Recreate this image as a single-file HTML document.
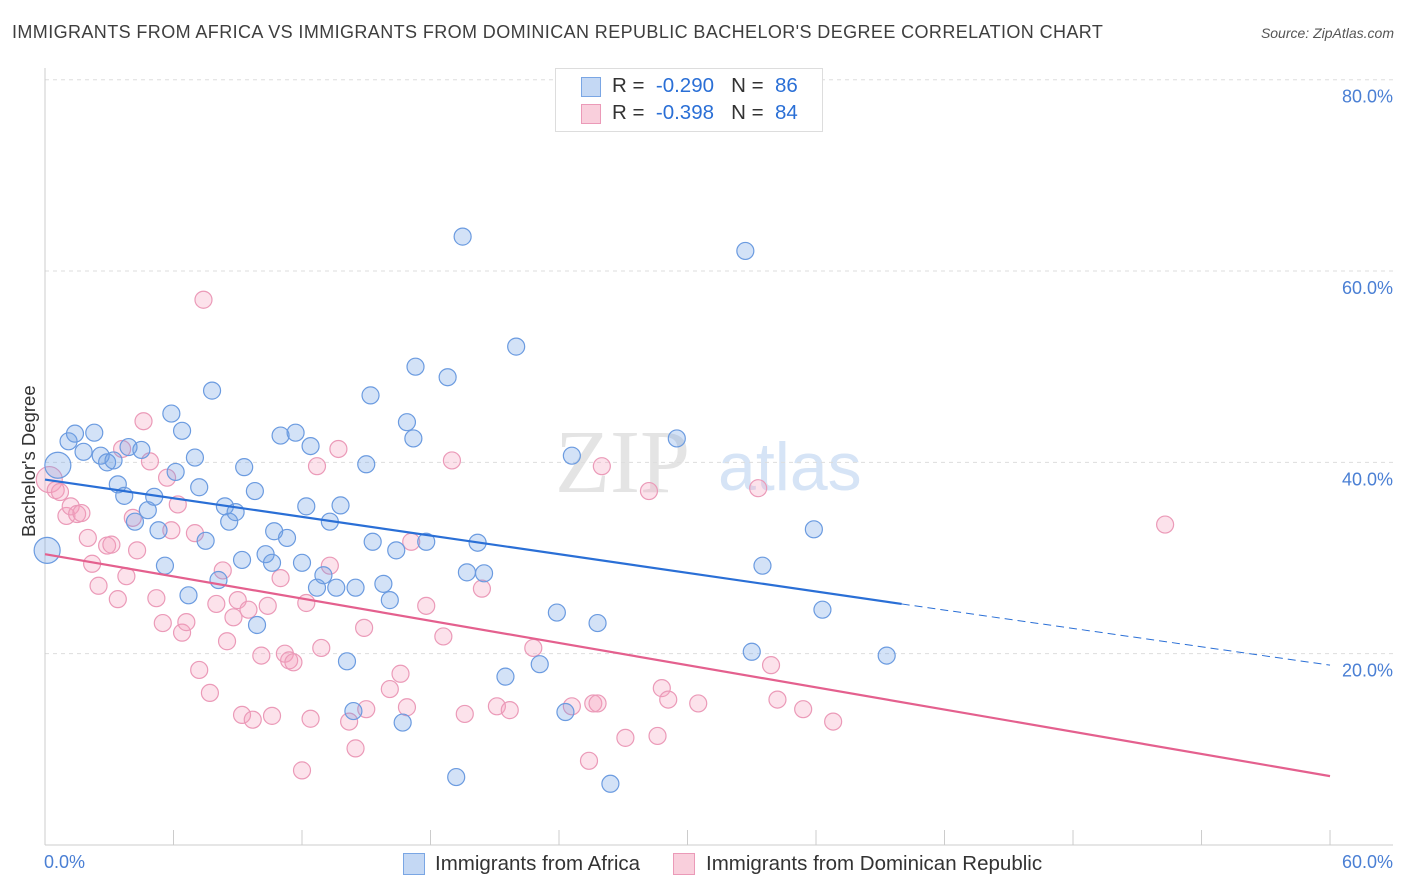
<!DOCTYPE html>
<html><head><meta charset="utf-8"><style>
body{margin:0;background:#fff;font-family:"Liberation Sans",sans-serif;}
#wrap{position:relative;width:1406px;height:892px;overflow:hidden;}
.t{position:absolute;white-space:nowrap;}
</style></head><body><div id="wrap">
<div class="t" style="left:12px;top:22px;font-size:18px;letter-spacing:0.4px;color:#3e3e3e;">IMMIGRANTS FROM AFRICA VS IMMIGRANTS FROM DOMINICAN REPUBLIC BACHELOR'S DEGREE CORRELATION CHART</div>
<div class="t" style="right:12px;top:25px;font-size:14px;color:#555;font-style:italic;">Source: ZipAtlas.com</div>
<svg id="svg" width="1406" height="892" style="position:absolute;left:0;top:0"></svg>
</div>
<script>
const blueX=[0.1,0.6,1.1,1.4,1.8,2.3,2.6,2.9,3.2,3.4,3.7,3.9,4.2,4.5,4.8,5.1,5.3,5.6,5.9,6.1,6.4,6.7,7.0,7.2,7.5,7.8,8.1,8.4,8.6,8.9,9.2,9.3,9.8,9.9,10.3,10.6,10.7,11.0,11.3,11.7,12.0,12.2,12.4,12.7,13.0,13.3,13.6,13.8,14.1,14.4,14.5,15.2,15.3,15.0,15.8,16.1,16.4,16.7,16.9,17.2,17.3,17.8,18.8,19.2,19.5,19.7,20.2,20.5,21.5,22.0,23.1,23.9,24.3,24.6,25.8,26.4,29.5,32.7,33.0,33.5,35.9,36.3,39.3];
const blueY=[30.8,39.7,42.2,43.0,41.1,43.1,40.7,40.0,40.2,37.7,36.5,41.6,33.8,41.3,35.0,36.4,32.9,29.2,45.1,39.0,43.3,26.1,40.5,37.4,31.8,47.5,27.7,35.4,33.8,34.8,29.8,39.5,37.0,23.0,30.4,29.5,32.8,42.8,32.1,43.1,29.5,35.4,41.7,26.9,28.2,33.8,26.9,35.5,19.2,14.0,26.9,47.0,31.7,39.8,27.3,25.6,30.8,12.8,44.2,42.5,50.0,31.7,48.9,7.1,63.6,28.5,31.6,28.4,17.6,52.1,18.9,24.3,13.9,40.7,23.2,6.4,42.5,62.1,20.2,29.2,33.0,24.6,19.8];
const pinkX=[0.2,0.5,0.7,1.0,1.2,1.5,1.7,2.0,2.2,2.5,2.9,3.1,3.4,3.8,4.1,4.3,4.6,3.6,4.9,5.2,5.5,5.7,5.9,6.2,6.4,6.6,7.0,7.2,7.4,7.7,8.0,8.3,8.5,8.8,9.0,9.2,9.5,9.7,10.1,10.4,10.6,11.0,11.2,11.4,11.6,12.0,12.2,12.4,12.7,12.9,13.3,13.7,14.2,14.5,14.9,15.0,16.1,16.6,16.9,17.1,17.8,18.6,19.0,19.6,20.4,21.1,21.7,22.8,24.6,25.4,25.6,25.8,26.0,27.1,28.2,28.6,28.8,29.1,30.5,33.3,33.9,34.2,35.4,36.8,52.3];
const pinkY=[38.2,37.1,36.9,34.4,35.4,34.6,34.7,32.1,29.4,27.1,31.3,31.4,25.7,28.1,34.2,30.8,44.3,41.4,40.1,25.8,23.2,38.4,32.9,35.6,22.2,23.3,32.6,18.3,57.0,15.9,25.2,28.7,21.3,23.8,25.6,13.6,24.6,13.1,19.8,25.0,13.5,27.9,20.0,19.3,19.1,7.8,25.3,13.2,39.6,20.6,29.2,41.4,12.9,10.1,22.7,14.2,16.3,17.9,14.4,31.7,25.0,21.8,40.2,13.7,26.8,14.5,14.1,20.6,14.5,8.8,14.8,14.8,39.6,11.2,37.0,11.4,16.4,15.2,14.8,37.3,18.8,15.2,14.2,12.9,33.5];
const blueLine=[[0,38.2],[40,25.2]], blueDash=[[40,25.2],[60,18.8]], pinkLine=[[0,30.4],[60,7.2]];
const yTicks=[20,40,60,80], yTickLabels=["20.0%","40.0%","60.0%","80.0%"];
const X=v=>45+v*21.417, Y=v=>845-v*9.566;
const svg=document.getElementById('svg'),NS='http://www.w3.org/2000/svg';
function mk(t,a,p){const e=document.createElementNS(NS,t);for(const k in a)e.setAttribute(k,a[k]);(p||svg).appendChild(e);return e;}
let w=mk('text',{x:555,y:492,'font-size':90,fill:'#e4e4e4','font-family':'Liberation Serif'});w.textContent='ZIP';


let w2=mk('text',{x:718,y:490,'font-size':68,fill:'#d6e4f6','font-family':'Liberation Sans'});w2.textContent='atlas';


yTicks.forEach((t,i)=>{const g=mk('line',{x1:45,x2:1393,y1:Y(t),y2:Y(t),stroke:'#ddd','stroke-dasharray':'4,4'});


const l=mk('text',{x:1393,y:Y(t)+23,'text-anchor':'end','font-size':18,fill:'#4a7fd4'});l.textContent=yTickLabels[i];

});
mk('line',{x1:45,x2:45,y1:68,y2:845,stroke:'#ccc'});
mk('line',{x1:45,x2:1393,y1:845,y2:845,stroke:'#ccc'});
for(let i=0;i<=10;i++){const tk=mk('line',{x1:X(i*6),x2:X(i*6),y1:830,y2:845,stroke:'#ccc'});

}
function dots(xs,ys,fill,stroke,name,nBig){xs.forEach((x,i)=>{const big=(x<1&&i<nBig);const c=mk('circle',{cx:X(x),cy:Y(ys[i]),r:big?13:8.5,fill:fill,stroke:stroke,'stroke-width':1.2});

});}
dots(pinkX,pinkY,'rgba(244,160,190,0.3)','#eb9ab8','pink-point',1);
dots(blueX,blueY,'rgba(110,160,230,0.3)','#6b9be0','blue-point',2);
function ln(p,col,dash,name){const l=mk('line',{x1:X(p[0][0]),y1:Y(p[0][1]),x2:X(p[1][0]),y2:Y(p[1][1]),stroke:col,'stroke-width':dash?1:2.2});if(dash)l.setAttribute('stroke-dasharray','8,5');

}
ln(blueLine,'#2a6fd6',false,'blue-trend-line');ln(blueDash,'#2a6fd6',true,'blue-trend-extension');ln(pinkLine,'#e4608e',false,'pink-trend-line');
</script>
<div class="t" style="left:555px;top:68px;width:266px;height:62px;border:1px solid #ddd;background:#fff;">
<div style="position:absolute;left:25px;top:8px;width:18px;height:18px;background:#c4d8f4;border:1px solid #7aa6e4"></div>
<div style="position:absolute;left:25px;top:35px;width:18px;height:18px;background:#f9cfdc;border:1px solid #eb9ab8"></div>
<div class="t" style="left:56px;top:5px;font-size:20.5px;color:#333">R = &nbsp;<span style="color:#2a6fd6">-0.290</span> &nbsp;&nbsp;N = &nbsp;<span style="color:#2a6fd6">86</span></div>
<div class="t" style="left:56px;top:32px;font-size:20.5px;color:#333">R = &nbsp;<span style="color:#2a6fd6">-0.398</span> &nbsp;&nbsp;N = &nbsp;<span style="color:#2a6fd6">84</span></div>
</div>
<div class="t" style="left:44px;top:852px;font-size:18px;color:#4a7fd4">0.0%</div>
<div class="t" style="right:13px;top:852px;font-size:18px;color:#4a7fd4">60.0%</div>
<div class="t" style="left:18px;top:537px;font-size:18.5px;color:#333;transform:rotate(-90deg);transform-origin:0 0">Bachelor's Degree</div>
<div class="t" style="left:403px;top:853px;width:20px;height:20px;background:#c4d8f4;border:1px solid #7aa6e4"></div>
<div class="t" style="left:435px;top:852px;font-size:20.5px;color:#333">Immigrants from Africa</div>
<div class="t" style="left:673px;top:853px;width:20px;height:20px;background:#f9cfdc;border:1px solid #eb9ab8"></div>
<div class="t" style="left:706px;top:852px;font-size:20.5px;color:#333">Immigrants from Dominican Republic</div>
</body></html>
